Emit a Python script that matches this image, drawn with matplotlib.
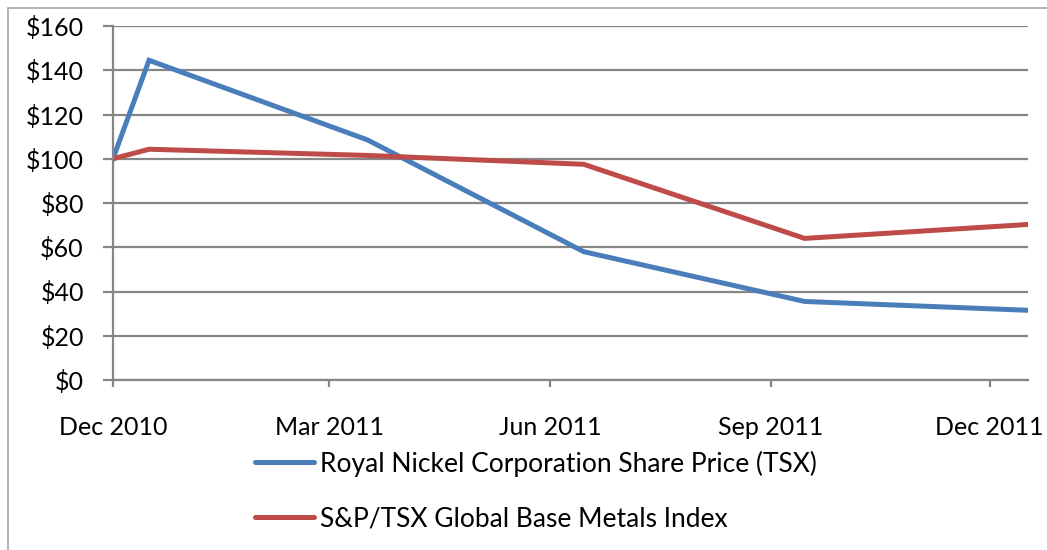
import numpy as np
import matplotlib.pyplot as plt
import matplotlib.dates as mdates
from matplotlib.patches import Rectangle

dates = np.array(["2010-12-01", "2010-12-16", "2011-03-17", "2011-06-15",
                  "2011-09-15", "2011-12-17"], dtype="datetime64[D]")
rnc = [100, 144.5, 108.5, 58, 35.5, 31.5]
metals = [100, 104.3, 101.5, 97.5, 64, 70.3]

tick_dates = np.array(["2010-12-01", "2011-03-01", "2011-06-01", "2011-09-01",
                       "2011-12-01"], dtype="datetime64[D]")
tick_labels = ["Dec 2010", "Mar 2011", "Jun 2011", "Sep 2011", "Dec 2011"]

plt.rcParams['font.family'] = ['Lato', 'DejaVu Sans']
fs = 18
gray = "#868686"

fig = plt.figure(figsize=(10.47, 5.5), dpi=100)
ax = fig.add_axes([113/1047, 1-380/550, (1028-113)/1047, (380-26)/550])

x = [mdates.datestr2num(str(d)) for d in dates]
ax.plot(x, rnc, color="#4A7EBB", lw=3.6,
        solid_joinstyle="miter", label="Royal Nickel Corporation Share Price (TSX)")
ax.plot(x, metals, color="#BE4B48", lw=3.6,
        solid_joinstyle="miter", label="S&P/TSX Global Base Metals Index")

ax.set_ylim(0, 160)
ax.set_yticks(np.arange(0, 161, 20))
ax.set_yticklabels(["$%d" % v for v in range(0, 161, 20)], fontsize=fs)
ax.yaxis.grid(True, color=gray, lw=1.6)
ax.set_axisbelow(True)

ax.set_xlim(mdates.datestr2num("2010-12-01"), mdates.datestr2num("2011-12-17"))
ax.set_xticks([mdates.datestr2num(str(d)) for d in tick_dates])
ax.set_xticklabels(tick_labels, fontsize=fs)

for s in ["top", "right"]:
    ax.spines[s].set_visible(False)
for s in ["left", "bottom"]:
    ax.spines[s].set_color(gray)
    ax.spines[s].set_linewidth(1.6)
ax.tick_params(axis="y", length=7, width=1.6, color=gray, pad=14)
ax.tick_params(axis="x", length=5, width=1.6, color=gray, pad=21)

leg = fig.legend(loc="upper left", bbox_to_anchor=(244/1047, 1-440/550), frameon=False,
                 fontsize=19, handlelength=2.27, handletextpad=0.2, labelspacing=1.12,
                 borderaxespad=0)
for line in leg.get_lines():
    line.set_solid_capstyle("round")

fig.patches.append(Rectangle((8/1047, -0.1), 1.2, 1.1 - 7.5/550, transform=fig.transFigure,
                             fill=False, edgecolor="#A6A6A6", lw=1.2))

fig.savefig("out.png", dpi=100)
